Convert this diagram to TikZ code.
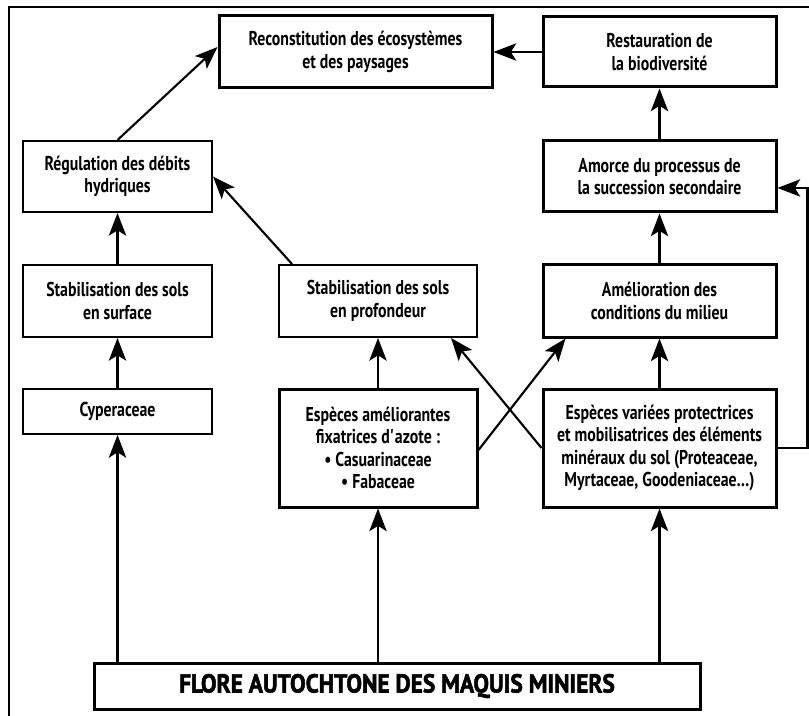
\documentclass[tikz,border=0pt]{standalone}
\usepackage{fontspec}
\setmainfont{PT Sans}[FakeStretch=0.79]
\newfontfamily\florefont{PT Sans}[FakeStretch=0.9, BoldFeatures={FakeBold=2}]
\usetikzlibrary{arrows.meta}
\begin{document}
\begin{tikzpicture}[x=0.75pt,y=-0.75pt,
 box/.style={draw, line width=1.5pt, align=center, inner sep=0pt, font=\fontsize{15}{16.8}\selectfont\bfseries},
 thickbox/.style={box, line width=2.25pt},
 arr/.style={line width=1.6pt, -{Stealth[length=17pt,width=13pt,inset=4pt]}}]
\useasboundingbox (0,0) rectangle (809,716);
\draw[line width=1.5pt] (9,716) -- (9,7) -- (809,7);
% nodes
\node[thickbox, minimum width=204.75pt, minimum height=54pt] (recon) at (355.5,52) {Reconstitution des écosystèmes\\et des paysages};
\node[thickbox, minimum width=174.75pt, minimum height=52.5pt] (resta) at (659.5,52) {Restauration de\\la biodiversité};
\node[box, minimum width=141.75pt, minimum height=53.25pt] (regul) at (117.5,176.5) {Régulation des débits\\hydriques};
\node[thickbox, minimum width=174.75pt, minimum height=53.25pt] (amorce) at (659.5,176.5) {Amorce du processus de\\la succession secondaire};
\node[box, minimum width=141.75pt, minimum height=54pt] (stabs) at (117.5,301) {Stabilisation des sols\\en surface};
\node[box, minimum width=148.5pt, minimum height=54pt] (stabp) at (378,301) {Stabilisation des sols\\en profondeur};
\node[thickbox, minimum width=174.75pt, minimum height=54pt] (amelio) at (659.5,301) {Amélioration des\\conditions du milieu};
\node[box, minimum width=141.75pt, minimum height=33.75pt] (cyp) at (117.5,411.5) {Cyperaceae};
\node[thickbox, minimum width=148.5pt, minimum height=88.5pt] (amelior) at (378,448) {Espèces améliorantes\\fixatrices d\textquotesingle azote :\\• Casuarinaceae\\• Fabaceae};
\node[thickbox, minimum width=174.75pt, minimum height=88.5pt] (variees) at (659.5,448) {Espèces variées protectrices\\et mobilisatrices des éléments\\minéraux du sol (Proteaceae,\\Myrtaceae, Goodeniaceae…)};
\node[thickbox, minimum width=454.5pt, minimum height=34.5pt, font=\florefont\fontsize{19.5}{21}\selectfont\bfseries] (flore) at (397,686) {FLORE AUTOCHTONE DES MAQUIS MINIERS};
% connectors
\draw[arr] (flore.north -| cyp.south) -- (cyp.south);
\draw[arr] (flore.north -| amelior.south) -- (amelior.south);
\draw[arr] (flore.north -| variees.south) -- (variees.south);
\draw[arr] (cyp) -- (stabs);
\draw[arr] (stabs) -- (regul);
\draw[arr] (regul.north) -- ([yshift=3.75pt]recon.west);
\draw[arr] (resta.west |- recon.east) -- (recon.east);
\draw[arr] (amorce) -- (resta);
\draw[arr] (amelio) -- (amorce);
\draw[arr] (variees) -- (amelio);
\draw[arr] (amelior) -- (stabp);
\draw[arr] ([xshift=10.5pt]stabp.north west) -- (regul.east);
\draw[arr] ([yshift=-1.5pt]amelior.east) -- ([xshift=18pt]amelio.south west);
\draw[arr] (variees.west) -- ([xshift=-20.25pt]stabp.south east);
\coordinate (rc) at (807.5,448);
\draw[arr] (variees.east) -- (rc) |- ([yshift=-8.6pt]amorce.east);
\end{tikzpicture}
\end{document}
